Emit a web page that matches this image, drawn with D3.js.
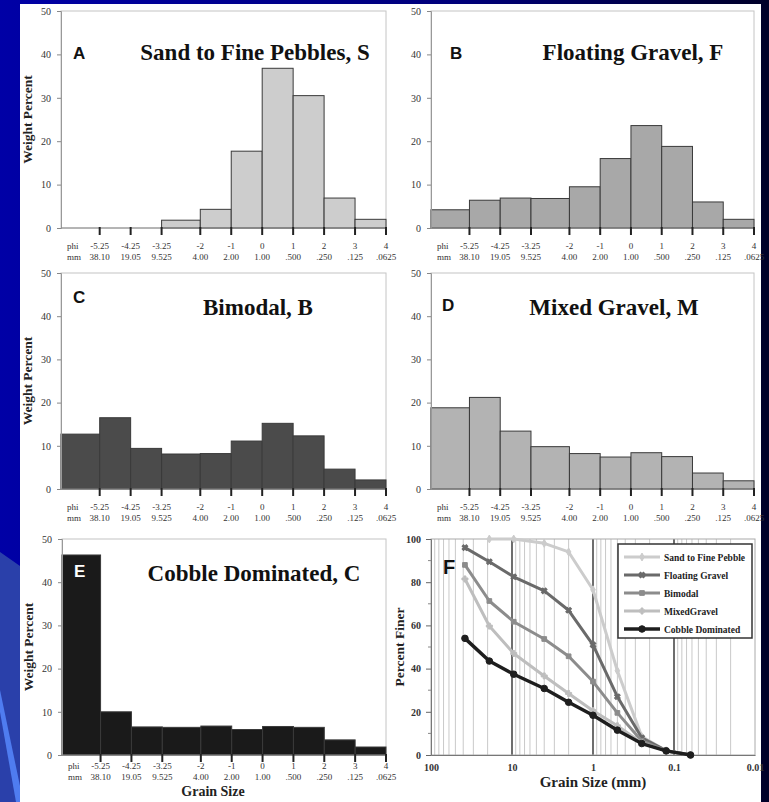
<!DOCTYPE html>
<html>
<head>
<meta charset="utf-8">
<script src="https://cdn.jsdelivr.net/npm/d3@7"></script>
<style>
body { margin: 0; background: #00007a; }
svg { display: block; }
</style>
</head>
<body>
<div id="chart"></div>
<script>
// histogram bins (phi), tick labels
let binEdges = [-6.5, -5.25, -4.25, -3.25, -2, -1, 0, 1, 2, 3, 4];
let phiTicks = [-5.25, -4.25, -3.25, -2, -1, 0, 1, 2, 3, 4];
let phiLabels = ["-5.25", "-4.25", "-3.25", "-2", "-1", "0", "1", "2", "3", "4"];
let mmLabels = ["38.10", "19.05", "9.525", "4.00", "2.00", "1.00", ".500", ".250", ".125", ".0625"];

// weight percent per bin
let sandPct = [0, 0, 0, 1.8, 4.3, 17.7, 36.8, 30.5, 6.9, 2.0];
let floatingPct = [4.2, 6.4, 6.9, 6.8, 9.5, 16.0, 23.6, 18.8, 6.0, 2.0];
let bimodalPct = [12.7, 16.5, 9.4, 8.1, 8.2, 11.1, 15.2, 12.3, 4.6, 2.1];
let mixedPct = [18.8, 21.2, 13.4, 9.8, 8.2, 7.4, 8.4, 7.5, 3.7, 1.9];
let cobblePct = [46.3, 10.0, 6.5, 6.4, 6.7, 5.9, 6.6, 6.4, 3.5, 1.85];

// cumulative curves (panel F)
let sieveSizes = [38.1, 19.05, 9.525, 4, 2, 1, 0.5, 0.25, 0.125, 0.0625];
let sandFiner = [null, 100, 100, 98, 94, 76.5, 39, 8.5, 2, 0];
let floatingFiner = [96, 89.5, 82.5, 76, 67, 51, 27, 8, 2, 0];
let bimodalFiner = [88, 71.3, 61.7, 53.7, 45.7, 34, 19.5, 6.5, 2, 0];
let mixedFiner = [81.5, 59.7, 47, 36.6, 28.5, 20.5, 13.5, 5.6, 1.9, 0];
let cobbleFiner = [54, 43.5, 37.4, 30.8, 24.4, 18.4, 11.5, 5.3, 1.9, 0];
let seriesNames = ["Sand to Fine Pebble", "Floating Gravel", "Bimodal", "MixedGravel", "Cobble Dominated"];

let W = 769, H = 802;
let serif = "'Liberation Serif', 'Times New Roman', serif";
let sans = "'Liberation Sans', Arial, sans-serif";

let svg = d3.select("#chart").append("svg")
    .attr("width", W)
    .attr("height", H);

// slide background
let defs = svg.append("defs");
let grad = defs.append("linearGradient").attr("id", "bg").attr("x1", "0").attr("x2", "1").attr("y1", "0").attr("y2", "0");
grad.append("stop").attr("offset", "0").attr("stop-color", "#0000a6");
grad.append("stop").attr("offset", "0.6").attr("stop-color", "#00007a");
grad.append("stop").attr("offset", "1").attr("stop-color", "#000028");
svg.append("rect").attr("width", W).attr("height", H).attr("fill", "url(#bg)");
svg.append("polygon").attr("points", "0,552 20,566 20,802 0,802").attr("fill", "#2a40aa");
svg.append("polygon").attr("points", "0,690 20,786 20,802 16,802 0,712").attr("fill", "#4f7cf0");
svg.append("rect").attr("x", 20).attr("y", 4).attr("width", 741).attr("height", H - 4).attr("fill", "#ffffff");

function drawHist(cfg) {
    let x = d3.scaleLinear().domain([binEdges[0], binEdges[binEdges.length - 1]]).range([cfg.left, cfg.right]);
    let y = d3.scaleLinear().domain([0, 50]).range([cfg.bottom, cfg.top]);
    let g = svg.append("g");
    let phiY = cfg.bottom + (cfg.phiOff || 21);
    let mmY = phiY + 10.5;

    // frame
    g.append("rect")
        .attr("x", cfg.left).attr("y", cfg.top)
        .attr("width", cfg.right - cfg.left).attr("height", cfg.bottom - cfg.top)
        .attr("fill", "none").attr("stroke", "#c4c4c4").attr("stroke-width", 1);

    // bars
    let bins = cfg.values.map((v, i) => ({ x0: binEdges[i], x1: binEdges[i + 1], v: v }));
    g.selectAll("rect.bar").data(bins.filter(d => d.v > 0)).enter().append("rect")
        .attr("class", "bar")
        .attr("x", d => x(d.x0))
        .attr("y", d => y(d.v))
        .attr("width", d => x(d.x1) - x(d.x0))
        .attr("height", d => y(0) - y(d.v))
        .attr("fill", cfg.fill)
        .attr("stroke", "#3a3a3a")
        .attr("stroke-width", 1);

    // y axis
    let yAxis = g.append("g")
        .attr("transform", "translate(" + cfg.left + ",0)")
        .call(d3.axisLeft(y).tickValues([0, 10, 20, 30, 40, 50]).tickSize(4).tickPadding(6));
    yAxis.select(".domain").attr("stroke", "#999");
    yAxis.selectAll("line").attr("stroke", "#888");
    yAxis.selectAll("text").attr("font-family", serif).attr("font-size", 10).attr("fill", "#333");

    // x axis
    g.append("line")
        .attr("x1", cfg.left).attr("x2", cfg.right)
        .attr("y1", cfg.bottom).attr("y2", cfg.bottom)
        .attr("stroke", "#888").attr("stroke-width", 1);
    g.selectAll("line.tk").data(phiTicks).enter().append("line")
        .attr("class", "tk")
        .attr("x1", d => x(d)).attr("x2", d => x(d))
        .attr("y1", cfg.bottom - 1).attr("y2", cfg.bottom + 7)
        .attr("stroke", "#222").attr("stroke-width", 2);
    g.selectAll("text.phi").data(phiLabels).enter().append("text")
        .attr("class", "phi")
        .attr("x", (d, i) => x(phiTicks[i]))
        .attr("y", phiY)
        .attr("text-anchor", "middle")
        .attr("font-family", serif).attr("font-size", 9).attr("fill", "#333")
        .text(d => d);
    g.selectAll("text.mm").data(mmLabels).enter().append("text")
        .attr("class", "mm")
        .attr("x", (d, i) => x(phiTicks[i]))
        .attr("y", mmY)
        .attr("text-anchor", "middle")
        .attr("font-family", serif).attr("font-size", 9).attr("fill", "#333")
        .text(d => d);
    g.append("text").attr("x", cfg.left + 6).attr("y", phiY)
        .attr("font-family", serif).attr("font-size", 9).attr("fill", "#333").text("phi");
    g.append("text").attr("x", cfg.left + 6).attr("y", mmY)
        .attr("font-family", serif).attr("font-size", 9).attr("fill", "#333").text("mm");

    if (cfg.yLabel) {
        g.append("text")
            .attr("transform", "translate(" + (cfg.left - 29) + "," + ((cfg.top + cfg.bottom) / 2) + ") rotate(-90)")
            .attr("text-anchor", "middle")
            .attr("font-family", serif).attr("font-weight", "bold").attr("font-size", 13.5).attr("fill", "#222")
            .text("Weight Percent");
    }
    if (cfg.xLabel) {
        g.append("text")
            .attr("x", 213).attr("y", mmY + 16)
            .attr("text-anchor", "middle")
            .attr("font-family", serif).attr("font-weight", "bold").attr("font-size", 14).attr("fill", "#222")
            .text("Grain Size");
    }

    g.append("text")
        .attr("x", cfg.letterX).attr("y", cfg.letterY)
        .attr("font-family", sans).attr("font-weight", "bold").attr("font-size", 17)
        .attr("fill", cfg.letterColor || "#111")
        .text(cfg.letter);
    g.append("text")
        .attr("x", cfg.titleX).attr("y", cfg.titleY)
        .attr("text-anchor", "middle")
        .attr("font-family", serif).attr("font-weight", "bold").attr("font-size", 23).attr("fill", "#111")
        .text(cfg.title);
}

drawHist({ left: 61, right: 386, top: 11, bottom: 228, values: sandPct, fill: "#cdcdcd",
    letter: "A", letterX: 73, letterY: 59, title: "Sand to Fine Pebbles, S", titleX: 255, titleY: 60, yLabel: true });
drawHist({ left: 431, right: 754, top: 11, bottom: 228, values: floatingPct, fill: "#a8a8a8",
    letter: "B", letterX: 450, letterY: 59, title: "Floating Gravel, F", titleX: 633, titleY: 60 });
drawHist({ left: 61, right: 386, top: 273, bottom: 489, values: bimodalPct, fill: "#4b4b4b",
    letter: "C", letterX: 73, letterY: 303, title: "Bimodal, B", titleX: 258, titleY: 315, yLabel: true });
drawHist({ left: 431, right: 754, top: 273, bottom: 489, values: mixedPct, fill: "#b3b3b3",
    letter: "D", letterX: 442, letterY: 311, title: "Mixed Gravel, M", titleX: 614, titleY: 315 });
drawHist({ left: 62, right: 386, top: 539, bottom: 755, values: cobblePct, fill: "#1a1a1a", phiOff: 14,
    letter: "E", letterX: 74, letterY: 577, letterColor: "#ffffff", title: "Cobble Dominated, C", titleX: 254, titleY: 581,
    yLabel: true, xLabel: true });

// panel F: cumulative curves
function drawCumulative() {
    let left = 431, right = 755, top = 539, bottom = 755;
    let x = d3.scaleLog().domain([100, 0.01]).range([left, right]);
    let y = d3.scaleLinear().domain([0, 100]).range([bottom, top]);
    let g = svg.append("g");

    let minor = [];
    [0.01, 0.1, 1, 10].forEach(dec => {
        for (let m = 2; m <= 9; m++) minor.push(dec * m);
    });
    g.selectAll("line.minor").data(minor).enter().append("line")
        .attr("x1", d => x(d)).attr("x2", d => x(d))
        .attr("y1", top).attr("y2", bottom)
        .attr("stroke", "#c9c9c9").attr("stroke-width", 1);
    g.selectAll("line.major").data([10, 1, 0.1]).enter().append("line")
        .attr("x1", d => x(d)).attr("x2", d => x(d))
        .attr("y1", top).attr("y2", bottom)
        .attr("stroke", "#4a4a4a").attr("stroke-width", 1.6);

    g.append("rect").attr("x", left).attr("y", top).attr("width", right - left).attr("height", bottom - top)
        .attr("fill", "none").attr("stroke", "#aaa");

    let yAxis = g.append("g")
        .attr("transform", "translate(" + left + ",0)")
        .call(d3.axisLeft(y).tickValues([0, 20, 40, 60, 80, 100]).tickSize(5).tickPadding(5));
    yAxis.select(".domain").attr("stroke", "#777");
    yAxis.selectAll("line").attr("stroke", "#666");
    yAxis.selectAll("text").attr("font-family", serif).attr("font-weight", "bold").attr("font-size", 10).attr("fill", "#333");
    g.selectAll("line.ymin").data([10, 30, 50, 70, 90]).enter().append("line")
        .attr("x1", left - 3).attr("x2", left)
        .attr("y1", d => y(d)).attr("y2", d => y(d))
        .attr("stroke", "#888");

    let xAxis = g.append("g")
        .attr("transform", "translate(0," + bottom + ")")
        .call(d3.axisBottom(x).tickValues([100, 10, 1, 0.1, 0.01]).tickFormat(d => String(d)).tickSize(0).tickPadding(9));
    xAxis.select(".domain").attr("stroke", "#777");
    xAxis.selectAll("text").attr("font-family", serif).attr("font-weight", "bold").attr("font-size", 10).attr("fill", "#333");

    g.append("text")
        .attr("transform", "translate(" + (left - 27) + "," + ((top + bottom) / 2) + ") rotate(-90)")
        .attr("text-anchor", "middle")
        .attr("font-family", serif).attr("font-weight", "bold").attr("font-size", 13.5).attr("fill", "#222")
        .text("Percent Finer");
    g.append("text")
        .attr("x", 593).attr("y", 787)
        .attr("text-anchor", "middle")
        .attr("font-family", serif).attr("font-weight", "bold").attr("font-size", 15).attr("fill", "#222")
        .text("Grain Size (mm)");

    let series = [
        { name: seriesNames[0], vals: sandFiner, color: "#cccccc", w: 3, sym: d3.symbolDiamond, size: 18 },
        { name: seriesNames[1], vals: floatingFiner, color: "#6a6a6a", w: 3, sym: d3.symbolCross, size: 20, rot: 45 },
        { name: seriesNames[2], vals: bimodalFiner, color: "#8c8c8c", w: 3, sym: d3.symbolSquare, size: 22 },
        { name: seriesNames[3], vals: mixedFiner, color: "#bebebe", w: 3, sym: d3.symbolCross, size: 20 },
        { name: seriesNames[4], vals: cobbleFiner, color: "#1e1e1e", w: 3.5, sym: d3.symbolCircle, size: 34 }
    ];

    let line = d3.line()
        .defined(d => d.v !== null)
        .x(d => x(d.s))
        .y(d => y(d.v));

    series.forEach(s => {
        let pts = s.vals.map((v, i) => ({ s: sieveSizes[i], v: v }));
        g.append("path")
            .attr("d", line(pts))
            .attr("fill", "none")
            .attr("stroke", s.color)
            .attr("stroke-width", s.w)
            .attr("stroke-linejoin", "round");
        g.selectAll(null).data(pts.filter(d => d.v !== null)).enter().append("path")
            .attr("d", d3.symbol().type(s.sym).size(s.size))
            .attr("transform", d => "translate(" + x(d.s) + "," + y(d.v) + ") rotate(" + (s.rot || 0) + ")")
            .attr("fill", s.color)
            .attr("stroke", s.color);
    });

    // legend
    let lg = g.append("g");
    lg.append("rect").attr("x", 618).attr("y", 544).attr("width", 134).attr("height", 94)
        .attr("fill", "#fff").attr("stroke", "#333").attr("stroke-width", 1.5);
    series.forEach((s, i) => {
        let ly = 557 + i * 18;
        lg.append("line").attr("x1", 624).attr("x2", 660).attr("y1", ly).attr("y2", ly)
            .attr("stroke", s.color).attr("stroke-width", s.w);
        lg.append("path")
            .attr("d", d3.symbol().type(s.sym).size(s.size))
            .attr("transform", "translate(642," + ly + ") rotate(" + (s.rot || 0) + ")")
            .attr("fill", s.color).attr("stroke", s.color);
        lg.append("text").attr("x", 664).attr("y", ly + 3.5)
            .attr("font-family", serif).attr("font-weight", "bold").attr("font-size", 9.5).attr("fill", "#222")
            .text(s.name);
    });

    g.append("text")
        .attr("x", 443).attr("y", 574)
        .attr("font-family", sans).attr("font-weight", "bold").attr("font-size", 20).attr("fill", "#111")
        .text("F");
}

drawCumulative();
</script>
</body>
</html>
